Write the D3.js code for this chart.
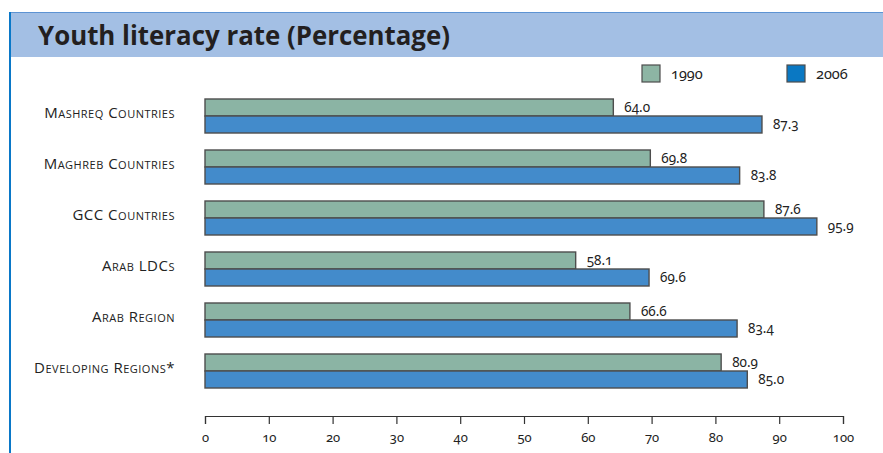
<!DOCTYPE html>
<html>
<head>
<meta charset="utf-8">
<script src="https://cdn.jsdelivr.net/npm/d3@7"></script>
<style>
  body { margin: 0; background: #fff; }
  svg { display: block; }
  .cat { font-family: "Open Sans", sans-serif; font-size: 15px; font-variant: small-caps; fill: #222; letter-spacing: 0.5px; }
  .val { font-family: "Noto Sans", sans-serif; font-size: 13.5px; font-variant-numeric: oldstyle-nums; fill: #222; }
  .axis text { font-family: "Noto Sans", sans-serif; font-size: 13px; font-variant-numeric: oldstyle-nums; fill: #222; }
  .axis path, .axis line { stroke: #333; stroke-width: 1.2; }
</style>
</head>
<body>
<svg id="chart" width="883" height="453"></svg>
<script>
// chart data
const categories = ['Mashreq Countries', 'Maghreb Countries', 'GCC Countries',
                    'Arab LDCs', 'Arab Region', 'Developing Regions*'];
const seriesNames = ['1990', '2006'];
const values1990 = [64.0, 69.8, 87.6, 58.1, 66.6, 80.9];
const values2006 = [87.3, 83.8, 95.9, 69.6, 83.4, 85.0];
const tickValues = [0, 10, 20, 30, 40, 50, 60, 70, 80, 90, 100];

const barColors = ['#8bb4a4', '#438bcb'];
const legendColors = ['#8db5a4', '#0a78c3'];

const svg = d3.select('#chart');

// header band
svg.append('rect')
    .attr('x', 10).attr('y', 12)
    .attr('width', 873).attr('height', 45)
    .attr('fill', '#a3bfe4');
svg.append('line')
    .attr('x1', 10).attr('x2', 883).attr('y1', 12.5).attr('y2', 12.5)
    .attr('stroke', '#5d93d3').attr('stroke-width', 1);
svg.append('line')
    .attr('x1', 10).attr('x2', 10).attr('y1', 12).attr('y2', 453)
    .attr('stroke', '#0a78c8').attr('stroke-width', 2);

let title = svg.append('text')
    .attr('x', 38).attr('y', 45)
    .attr('font-family', '"Open Sans", sans-serif')
    .attr('font-weight', 700)
    .attr('font-size', 26)
    .attr('fill', '#231f20')
    .text('Youth literacy rate (Percentage)');
title.attr('textLength', 412).attr('lengthAdjust', 'spacingAndGlyphs');

// scales
const x = d3.scaleLinear().domain([0, 100]).range([205, 843]);
const y = d3.scaleBand().domain(categories).range([99, 388]).paddingInner(1 / 3);
const ySeries = d3.scaleBand().domain(seriesNames).range([0, y.bandwidth()]);

const rows = categories.map((c, i) => ({
    name: c,
    vals: [
        {series: '1990', value: values1990[i]},
        {series: '2006', value: values2006[i]}
    ]
}));

// category labels
svg.selectAll('text.cat')
    .data(categories)
    .join('text')
    .classed('cat', true)
    .attr('x', 175)
    .attr('y', d => y(d) + y.bandwidth() / 2 + 2)
    .attr('text-anchor', 'end')
    .text(d => d);

let groups = svg.selectAll('g.row')
    .data(rows)
    .join('g')
    .classed('row', true)
    .attr('transform', d => `translate(0,${y(d.name)})`);

groups.selectAll('rect')
    .data(d => d.vals)
    .join('rect')
    .attr('x', x(0))
    .attr('y', d => ySeries(d.series))
    .attr('width', d => x(d.value) - x(0))
    .attr('height', ySeries.bandwidth())
    .attr('fill', (d, i) => barColors[i])
    .attr('stroke', '#4d4d4d')
    .attr('stroke-width', 1.4);

groups.selectAll('text.val')
    .data(d => d.vals)
    .join('text')
    .classed('val', true)
    .attr('x', d => x(d.value) + 11)
    .attr('y', d => ySeries(d.series) + ySeries.bandwidth() / 2 + 4)
    .text(d => d.value.toFixed(1));

// axis
svg.append('g')
    .classed('axis', true)
    .attr('transform', 'translate(0,416)')
    .call(d3.axisBottom(x).tickValues(tickValues).tickSize(8).tickSizeOuter(8).tickPadding(9));

// legend
const legendX = [642, 787];
let legend = svg.selectAll('g.legend')
    .data(seriesNames)
    .join('g')
    .classed('legend', true)
    .attr('transform', (d, i) => `translate(${legendX[i]},65)`);
legend.append('rect')
    .attr('width', 18).attr('height', 17)
    .attr('fill', (d, i) => legendColors[i])
    .attr('stroke', '#4d4d4d')
    .attr('stroke-width', 1.2);
legend.append('text')
    .attr('x', 29).attr('y', 13.5)
    .attr('font-family', '"Noto Sans", sans-serif')
    .attr('font-size', 14.5)
    .style('font-variant-numeric', 'oldstyle-nums')
    .attr('fill', '#222')
    .text(d => d);
</script>
</body>
</html>
